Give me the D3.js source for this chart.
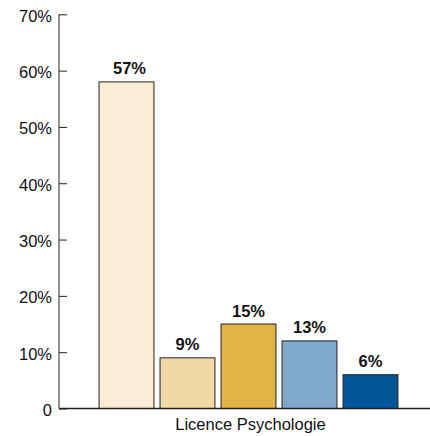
<!DOCTYPE html>
<html><head><meta charset="utf-8">
<script src="https://cdn.jsdelivr.net/npm/d3@7"></script>
<style>
html,body{margin:0;padding:0;background:#fff;}
text{font-family:"Liberation Sans",Arial,sans-serif;}
</style></head>
<body><svg id="c" width="430" height="436"></svg>
<script>
const category = "Licence Psychologie";
const seriesNames = ["s1","s2","s3","s4","s5"];
const values = [58, 9, 15, 12, 6];
const valueLabels = ["57%", "9%", "15%", "13%", "6%"];
const colors = ["#F8ECD4", "#F0D9A7", "#E2B445", "#80A9CC", "#04559A"];
const yTicks = [0, 10, 20, 30, 40, 50, 60, 70];

const svg = d3.select("#c");
const x0 = 59, yBase = 408.5, yTop = 14.3;
const y = d3.scaleLinear().domain([0, 70]).range([yBase, yTop]);
const x = d3.scaleBand().domain(seriesNames).range([96, 401]).paddingInner(0.1).paddingOuter(0.05);

// bars
svg.selectAll("rect.bar").data(values).enter().append("rect")
  .attr("x", (d,i)=>x(seriesNames[i]))
  .attr("y", d=>y(d))
  .attr("width", x.bandwidth())
  .attr("height", d=>yBase - y(d))
  .attr("fill", (d,i)=>colors[i])
  .attr("stroke", "#222")
  .attr("stroke-width", 1);

// value labels
svg.selectAll("text.val").data(values).enter().append("text")
  .attr("x", (d,i)=>x(seriesNames[i]) + x.bandwidth()/2 + (i===0?3:0))
  .attr("y", d=>y(d) - 7.5)
  .attr("text-anchor", "middle")
  .attr("font-size", 16.5).attr("font-weight", "bold").attr("fill", "#111")
  .text((d,i)=>valueLabels[i]);

// y axis
const yAxis = d3.axisLeft(y).tickValues(yTicks).tickSize(-8).tickPadding(7)
  .tickFormat(d => d === 0 ? "0" : d + "%");
const g = svg.append("g").attr("transform", `translate(${x0},0)`).call(yAxis);
g.select(".domain").attr("stroke", "#222").attr("d", `M0,${yTop}V${yBase}`);
g.selectAll(".tick line").attr("stroke", "#222");
g.selectAll(".tick text").attr("font-size", 16.5).attr("fill", "#111")
  .attr("font-family", "Liberation Sans, Arial, sans-serif").attr("dy", "0.42em");

// x axis line
svg.append("line").attr("x1", x0).attr("x2", 430).attr("y1", yBase).attr("y2", yBase)
  .attr("stroke", "#222").attr("stroke-width", 1.3);

// category label
svg.append("text").attr("x", (x.range()[0]+x.range()[1])/2 + 2).attr("y", 430)
  .attr("text-anchor", "middle").attr("font-size", 16.5).attr("fill", "#111")
  .text(category);
</script></body></html>
